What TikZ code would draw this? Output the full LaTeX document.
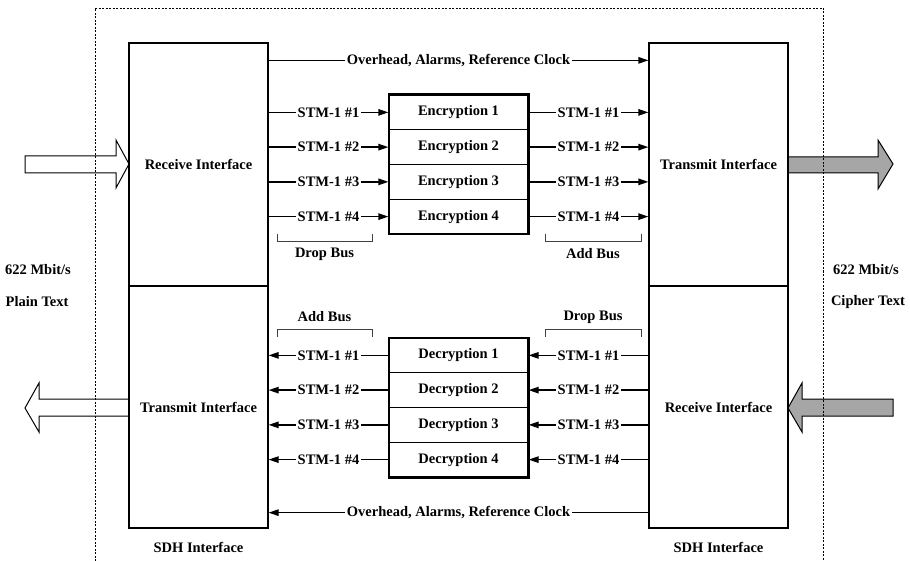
\documentclass[tikz,border=0pt]{standalone}
\usepackage{fontspec}
\setmainfont{Liberation Serif}
\usetikzlibrary{arrows.meta}
\definecolor{arrowgray}{RGB}{166,166,166}
\begin{document}
\begin{tikzpicture}[x=1pt,y=-1pt, line width=1.3pt,
  every node/.style={font=\fontsize{14.5}{17}\selectfont\bfseries},
  blk/.style={draw, minimum width=139pt, inner sep=0pt, line width=1.3pt},
  lbl/.style={fill=white, inner sep=2pt},
  sig/.style={-{Triangle[length=10pt,width=6.5pt]}},
  bigarrow/.style={draw, line width=1pt},
  bracketline/.style={line width=1pt, draw=black!75},
  frame/.style={dash pattern=on 2pt off 1.5pt, line width=0.8pt}]
\useasboundingbox (0,0) rectangle (910,561);

% block arrows
\draw[bigarrow, fill=white] (25,156) -- (116,156) -- (116,140) -- (129,164) -- (116,188) -- (116,173) -- (25,173) -- cycle;
\draw[bigarrow, fill=arrowgray] (788,157) -- (878,157) -- (878,140) -- (893,164) -- (878,189) -- (878,173) -- (788,173) -- cycle;
\draw[bigarrow, fill=white] (129,399) -- (39,399) -- (39,383) -- (25,408) -- (39,432) -- (39,416) -- (129,416) -- cycle;
\draw[bigarrow, fill=arrowgray] (893,399) -- (802,399) -- (802,383) -- (788,408) -- (802,432) -- (802,416) -- (893,416) -- cycle;

% interface boxes
\node[blk, fill=white, minimum height=243pt] (LRx) at (198.5,164.5) {Receive Interface};
\node[blk, fill=white, minimum height=242pt] (LTx) at (198.5,407) {Transmit Interface};
\node[blk, fill=white, minimum height=243pt] (RTx) at (718.5,164.5) {Transmit Interface};
\node[blk, fill=white, minimum height=242pt] (RRx) at (718.5,407) {Receive Interface};

% encryption / decryption
\foreach \i in {1,...,4} {
  \node[blk, minimum height=34.75pt] (E\i) at (458.5,{95+34.75*(\i-0.5)}) {Encryption \i};
  \node[blk, minimum height=34.75pt] (D\i) at (458.5,{338+34.75*(\i-0.5)}) {Decryption \i};
}
\draw[line width=1.7pt] (E1.north west) rectangle (E4.south east);
\draw[line width=1.7pt] (D1.north west) rectangle (D4.south east);

\foreach \i in {1,...,4} {
  \draw[sig] (LRx.east |- E\i) -- node[lbl]{STM-1 \#\i} (E\i.west);
  \draw[sig] (E\i.east) -- node[lbl]{STM-1 \#\i} (RTx.west |- E\i);
  \draw[sig] (RRx.west |- D\i) -- node[lbl]{STM-1 \#\i} (D\i.east);
  \draw[sig] (D\i.west) -- node[lbl]{STM-1 \#\i} (LTx.east |- D\i);
}

% overhead lines
\draw[sig] ([yshift=-18pt]LRx.north east) -- node[lbl]{Overhead, Alarms, Reference Clock} ([yshift=-18pt]RTx.north west);
\draw[sig] ([yshift=16pt]RRx.south west) -- node[lbl]{Overhead, Alarms, Reference Clock} ([yshift=16pt]LTx.south east);

% bus brackets
\draw[bracketline] (277,234) -- (277,242) -- (372,242) -- (372,234);
\draw[bracketline] (545,234) -- (545,242) -- (641,242) -- (641,234);
\draw[bracketline] (277,337) -- (277,329) -- (372,329) -- (372,337);
\draw[bracketline] (545,337) -- (545,329) -- (641,329) -- (641,337);
\node (dbus1) at (324.5,254) {Drop Bus};
\node (abus1) at (593,254) {Add Bus};
\node (abus2) at (324.5,317) {Add Bus};
\node (dbus2) at (593,317) {Drop Bus};

% side labels
\node (rl1) at (38,270) {622 Mbit/s};
\node (rl2) at (37,302) {Plain Text};
\node (rr1) at (866,270) {622 Mbit/s};
\node (rr2) at (868,302) {Cipher Text};
\node (sdh1) at (198.5,547) {SDH Interface};
\node (sdh2) at (718.5,547) {SDH Interface};

% dashed frame
\draw[frame] (95,561) -- (95,8) -- (823,8) -- (823,561);
\end{tikzpicture}
\end{document}
